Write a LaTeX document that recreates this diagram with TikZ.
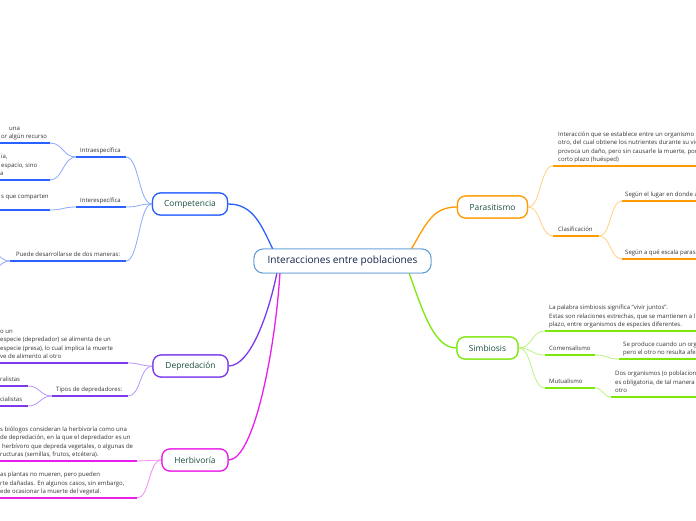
\documentclass[tikz,border=0pt]{standalone}
\usepackage{fontspec}
\setmainfont{Open Sans}
\definecolor{cblue}{HTML}{2962FF}
\definecolor{cbluel}{HTML}{8AA8FF}
\definecolor{cpur}{HTML}{7C3AED}
\definecolor{cpurl}{HTML}{B794FF}
\definecolor{cmag}{HTML}{EA1EEA}
\definecolor{cmagl}{HTML}{F28CF2}
\definecolor{corg}{HTML}{FF9A00}
\definecolor{corgl}{HTML}{FFCF80}
\definecolor{cgrn}{HTML}{7CE80A}
\definecolor{cgrnl}{HTML}{BDF27F}
\definecolor{ccen}{HTML}{5B9BD5}
\definecolor{ntext}{HTML}{1D4D3F}
\definecolor{ctext}{HTML}{14224A}
\definecolor{ltext}{HTML}{333333}
\tikzset{
  mainnode/.style={draw=#1, rounded corners=8pt, line width=1.2pt, fill=white,
    minimum height=22pt, inner sep=2pt, text=ntext, font=\fontsize{8.4}{10}\selectfont},
  centralnode/.style={draw=ccen, rounded corners=9pt, line width=0.9pt, fill=white,
    minimum height=24pt, minimum width=177pt, inner sep=2pt, text=ctext,
    font=\fontsize{10.1}{12}\selectfont},
  lbl/.style={inner sep=0pt, anchor=base west, align=left, text=ltext,
    font=\fontsize{6}{8.4}\selectfont},
  ul/.style={line width=2pt, draw=#1},
  thin/.style={line width=0.8pt, draw=#1},
  big/.style={line width=1.3pt, draw=#1}
}
\begin{document}
\begin{tikzpicture}[x=1pt,y=-1pt]
\useasboundingbox (0,0) rectangle (696,520);
\clip (0,0) rectangle (696,520);

% ---------- main nodes ----------
\node[centralnode] (cen) at (342.5,261) {Interacciones entre poblaciones};
\node[mainnode=cblue, minimum width=75pt] (comp) at (190,204) {Competencia};
\node[mainnode=cpur, minimum width=75pt] (dep) at (190.5,366) {Depredación};
\node[mainnode=cmag, minimum width=66pt] (herb) at (195,460) {Herbivoría};
\node[mainnode=corg, minimum width=70pt] (par) at (492.5,207) {Parasitismo};
\node[mainnode=cgrn, minimum width=61pt] (sim) at (487.5,348) {Simbiosis};

% anchor points on the central node
\coordinate (cenB) at (273,249.5);
\coordinate (cenP) at (277,272.5);
\coordinate (cenM) at (280,272.5);
\coordinate (cenO) at (411,249.5);
\coordinate (cenG) at (409,272.5);

% ---------- competencia branch ----------
\coordinate (intraR) at (126,157); \coordinate (intraL) at (76,157);
\coordinate (interR) at (126,207); \coordinate (interL) at (76,207);
\coordinate (puedeR) at (126,261); \coordinate (puedeL) at (10,261);
\coordinate (icAR) at (50,143); \coordinate (icAL) at (-2,143);
\coordinate (icBR) at (50,180); \coordinate (icBL) at (-2,180);
\coordinate (iecR) at (50,210); \coordinate (iecL) at (-2,210);
\coordinate (pUp) at (-20,240); \coordinate (pDn) at (-20,282);

\node[lbl] (intraT) at (80,152.5) {Intraespecífica};
\node[lbl] (interT) at (80,202.5) {Interespecífica};
\node[lbl] (puedeT) at (16,256.5) {Puede desarrollarse de dos maneras:};
\node[lbl] (icA) at (0,138.5) {\hspace*{9pt}una\\\hspace*{1pt}or algún recurso};
\node[lbl] (icB) at (0,175.5) {\hspace*{1pt}ia,\\\hspace*{1pt}espacio, sino\\a};
\node[lbl] (iec) at (0,198.5) {\hspace*{1pt}s que comparten};

\draw[ul=cblue] (intraL) -- (intraR);
\draw[ul=cblue] (interL) -- (interR);
\draw[ul=cblue] (puedeL) -- (puedeR);
\draw[ul=cblue] (icAL) -- (icAR);
\draw[ul=cblue] (icBL) -- (icBR);
\draw[ul=cblue] (iecL) -- (iecR);

\draw[thin=cbluel] (comp.west) .. controls +(-13,0) and +(13,0) .. (intraR);
\draw[thin=cbluel] (comp.west) .. controls +(-13,0) and +(13,0) .. (interR);
\draw[thin=cbluel] (comp.west) .. controls +(-13,0) and +(13,0) .. (puedeR);
\draw[thin=cbluel] (intraL) .. controls +(-13,0) and +(13,0) .. (icAR);
\draw[thin=cbluel] (intraL) .. controls +(-13,0) and +(13,0) .. (icBR);
\draw[thin=cbluel] (interL) .. controls +(-13,0) and +(13,0) .. (iecR);
\draw[thin=cbluel] (puedeL) .. controls +(-15,0) and +(15,0) .. (pUp);
\draw[thin=cbluel] (puedeL) .. controls +(-15,0) and +(15,0) .. (pDn);

% ---------- depredacion branch ----------
\coordinate (dbR) at (128,363); \coordinate (dbL) at (-2,363);
\coordinate (tipR) at (128,396); \coordinate (tipL) at (52,396);
\coordinate (genR) at (28,386); \coordinate (genL) at (-2,386);
\coordinate (espR) at (28,406); \coordinate (espL) at (-2,406);

\node[lbl] (db) at (0,358.5) {o un\\especie (depredador) se alimenta de un\\especie (presa), lo cual implica la muerte\\ve de alimento al otro};
\node[lbl] (tip) at (56,391.5) {Tipos de depredadores:};
\node[lbl] (gen) at (0,381.5) {ralistas};
\node[lbl] (esp) at (0,401.5) {cialistas};

\draw[ul=cpur] (dbL) -- (dbR);
\draw[ul=cpur] (tipL) -- (tipR);
\draw[ul=cpur] (genL) -- (genR);
\draw[ul=cpur] (espL) -- (espR);
\draw[thin=cpurl] (dep.west) .. controls +(-13,0) and +(13,0) .. (dbR);
\draw[thin=cpurl] (dep.west) .. controls +(-13,0) and +(13,0) .. (tipR);
\draw[thin=cpurl] (tipL) .. controls +(-12,0) and +(12,0) .. (genR);
\draw[thin=cpurl] (tipL) .. controls +(-12,0) and +(12,0) .. (espR);

% ---------- herbivoria branch ----------
\coordinate (hAR) at (137,461); \coordinate (hAL) at (-2,461);
\coordinate (hBR) at (137,498); \coordinate (hBL) at (-2,498);
\node[lbl] (hA) at (0,456.5) {s biólogos consideran la herbivoría como una\\de depredación, en la que el depredador es un\\\hspace*{2pt}herbívoro que depreda vegetales, o algunas de\\ructuras (semillas, frutos, etcétera).};
\node[lbl] (hB) at (0,493.5) {as plantas no mueren, pero pueden\\rte dañadas. En algunos casos, sin embargo,\\ede ocasionar la muerte del vegetal.};
\draw[ul=cmag] (hAL) -- (hAR);
\draw[ul=cmag] (hBL) -- (hBR);
\draw[thin=cmagl] (herb.west) .. controls +(-13,0) and +(13,0) .. (hAR);
\draw[thin=cmagl] (herb.west) .. controls +(-13,0) and +(13,0) .. (hBR);

% ---------- parasitismo branch ----------
\coordinate (pbL) at (553,166); \coordinate (pbR) at (700,166);
\coordinate (clL) at (553,236); \coordinate (clR) at (599,236);
\coordinate (s1L) at (622,201); \coordinate (s1R) at (700,201);
\coordinate (s2L) at (622,259); \coordinate (s2R) at (700,259);
\node[lbl] (pb) at (558,161.5) {Interacción que se establece entre un organismo\\otro, del cual obtiene los nutrientes durante su vid\\provoca un daño, pero sin causarle la muerte, por\\corto plazo (huésped)};
\node[lbl] (cl) at (558,231.5) {Clasificación};
\node[lbl] (s1) at (625,196.5) {Según el lugar en donde a};
\node[lbl] (s2) at (625,254.5) {Según a qué escala paras};
\draw[ul=corg] (pbL) -- (pbR);
\draw[ul=corg] (clL) -- (clR);
\draw[ul=corg] (s1L) -- (s1R);
\draw[ul=corg] (s2L) -- (s2R);
\draw[thin=corgl] (par.east) .. controls +(13,0) and +(-13,0) .. (pbL);
\draw[thin=corgl] (par.east) .. controls +(13,0) and +(-13,0) .. (clL);
\draw[thin=corgl] (clR) .. controls +(12,0) and +(-12,0) .. (s1L);
\draw[thin=corgl] (clR) .. controls +(12,0) and +(-12,0) .. (s2L);

% ---------- simbiosis branch ----------
\coordinate (sbL) at (545,331); \coordinate (sbR) at (700,331);
\coordinate (coL) at (545,355); \coordinate (coR) at (595,355);
\coordinate (ccL) at (619,359); \coordinate (ccR) at (700,359);
\coordinate (muL) at (545,388); \coordinate (muR) at (595,388);
\coordinate (mcL) at (611,397); \coordinate (mcR) at (700,397);
\node[lbl] (sb) at (549,326.5) {La palabra simbiosis significa “vivir juntos”.\\Estas son relaciones estrechas, que se mantienen a l\\plazo, entre organismos de especies diferentes.};
\node[lbl] (co) at (549,350.5) {Comensalismo};
\node[lbl] (cc) at (623,354.5) {Se produce cuando un org\\pero el otro no resulta afe};
\node[lbl] (mu) at (549,383.5) {Mutualismo};
\node[lbl] (mc) at (615,392.5) {Dos organismos (o poblacion\\es obligatoria, de tal manera\\otro};
\draw[ul=cgrn] (sbL) -- (sbR);
\draw[ul=cgrn] (coL) -- (coR);
\draw[ul=cgrn] (ccL) -- (ccR);
\draw[ul=cgrn] (muL) -- (muR);
\draw[ul=cgrn] (mcL) -- (mcR);
\draw[thin=cgrnl] (sim.east) .. controls +(14,0) and +(-14,0) .. (sbL);
\draw[thin=cgrnl] (sim.east) .. controls +(14,0) and +(-14,0) .. (coL);
\draw[thin=cgrnl] (sim.east) .. controls +(14,0) and +(-14,0) .. (muL);
\draw[thin=cgrnl] (coR) .. controls +(12,0) and +(-12,0) .. (ccL);
\draw[thin=cgrnl] (muR) .. controls +(8,0) and +(-8,0) .. (mcL);

% ---------- main connectors ----------
\draw[big=cblue] (comp.east) .. controls +(25,0) and +(-12,-25) .. (cenB);
\draw[big=cpur] (dep.east) .. controls +(22,0) and +(-8,40) .. (cenP);
\draw[big=cmag] (herb.east) .. controls +(25,0) and +(-5,80) .. (cenM);
\draw[big=corg] (par.west) .. controls +(-25,0) and +(15,-25) .. (cenO);
\draw[big=cgrn] (sim.west) .. controls +(-22,0) and +(14,40) .. (cenG);

% redraw main nodes on top
\node[centralnode] at (cen) {Interacciones entre poblaciones};
\node[mainnode=cblue, minimum width=75pt] at (comp) {Competencia};
\node[mainnode=cpur, minimum width=75pt] at (dep) {Depredación};
\node[mainnode=cmag, minimum width=66pt] at (herb) {Herbivoría};
\node[mainnode=corg, minimum width=70pt] at (par) {Parasitismo};
\node[mainnode=cgrn, minimum width=61pt] at (sim) {Simbiosis};
\end{tikzpicture}
\end{document}
